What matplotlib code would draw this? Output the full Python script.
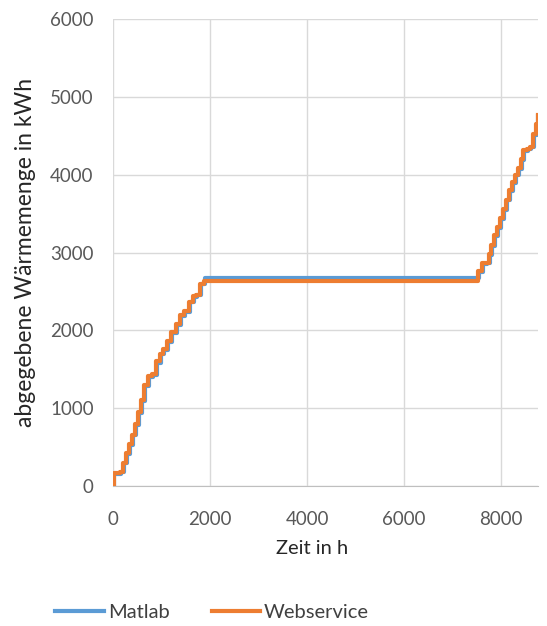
import numpy as np
import matplotlib
matplotlib.use("Agg")
import matplotlib.pyplot as plt

# step points (time in h, cumulative heat in kWh)
web_t = [0, 20, 140, 200, 260, 330, 390, 450, 510, 570, 630, 720, 800, 880, 960,
         1040, 1110, 1200, 1290, 1380, 1470, 1560, 1640, 1720, 1800, 1880,
         7530, 7600, 7680, 7740, 7800, 7860, 7920, 7980, 8040, 8100, 8160, 8220,
         8280, 8340, 8400, 8460, 8530, 8600, 8660, 8720, 8760]
web_v = [0, 170, 180, 300, 420, 540, 660, 800, 950, 1100, 1300, 1420, 1440, 1600,
         1700, 1760, 1860, 1980, 2080, 2200, 2250, 2370, 2440, 2450, 2600, 2640,
         2760, 2860, 2870, 2980, 3100, 3220, 3330, 3440, 3560, 3680, 3800, 3900,
         4000, 4080, 4200, 4320, 4330, 4360, 4520, 4650, 4770]

mat_t = [0, 20, 160, 220, 280, 350, 410, 470, 530, 590, 650, 740, 820, 900, 980,
         1060, 1130, 1220, 1310, 1400, 1490, 1580, 1660, 1740, 1820, 1900,
         7550, 7620, 7700, 7760, 7820, 7880, 7940, 8000, 8060, 8120, 8180, 8240,
         8300, 8360, 8420, 8480, 8550, 8620, 8680, 8740, 8760]
mat_v = [0, 160, 175, 290, 410, 530, 650, 790, 940, 1090, 1280, 1400, 1430, 1580,
         1690, 1750, 1850, 1970, 2070, 2190, 2240, 2360, 2430, 2450, 2590, 2675,
         2750, 2850, 2870, 2970, 3090, 3210, 3320, 3430, 3550, 3670, 3790, 3890,
         3990, 4070, 4190, 4310, 4330, 4350, 4510, 4640, 4760]

x_ticks = [0, 2000, 4000, 6000, 8000]
y_ticks = [0, 1000, 2000, 3000, 4000, 5000, 6000]

plt.rcParams["font.family"] = ["Lato", "DejaVu Sans"]

fig = plt.figure(figsize=(5.47, 6.26), dpi=100, facecolor="white")
ax = fig.add_axes([0.2066, 0.2236, 0.777, 0.746])

ax.plot(mat_t, mat_v, drawstyle="steps-post", color="#5B9BD5", lw=3,
        label="Matlab", zorder=3)
ax.plot(web_t, web_v, drawstyle="steps-post", color="#ED7D31", lw=3,
        label="Webservice", zorder=4)

ax.set_xlim(0, 8760)
ax.set_ylim(0, 6000)
ax.set_xticks(x_ticks)
ax.set_yticks(y_ticks)
ax.grid(True, color="#D9D9D9", lw=1)
ax.set_axisbelow(True)
for side in ["top", "right", "left"]:
    ax.spines[side].set_visible(False)
ax.spines["bottom"].set_color("#BFBFBF")
ax.tick_params(length=0, labelsize=13.5, colors="#595959")
ax.tick_params(axis="x", pad=18)
ax.tick_params(axis="y", pad=14)

ax.set_xlabel("Zeit in h", fontsize=14.5, color="#262626", labelpad=10)
ax.xaxis.set_label_coords(0.468, -0.115)
ax.set_ylabel("abgegebene Wärmemenge in kWh", fontsize=16.5, color="#262626",
              labelpad=10)

fig.legend(loc="center", bbox_to_anchor=(0.388, 0.022), ncol=2, frameon=False,
           fontsize=14.5, handlelength=2.4, handletextpad=0.2, columnspacing=2.1,
           labelcolor="#404040")

fig.savefig("out.png", dpi=100)
